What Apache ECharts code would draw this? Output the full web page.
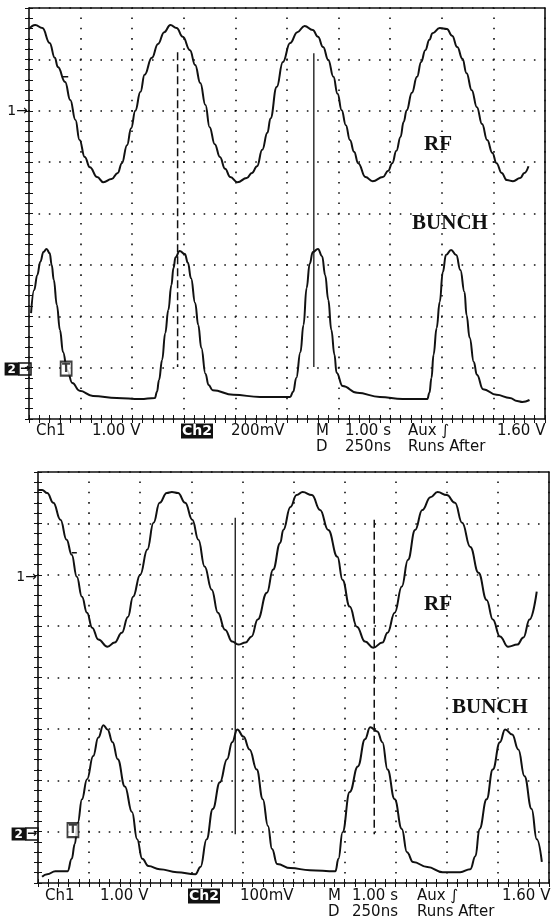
<!DOCTYPE html>
<html>
<head>
<meta charset="utf-8">
<script src="https://cdn.jsdelivr.net/npm/echarts/dist/echarts.min.js"></script>
<style>html,body{margin:0;padding:0;background:#fff}#c{width:554px;height:919px}</style>
</head>
<body>
<div id="c"></div>
<script>
// x: time in ns (250 ns/div, 10 div); y: screen divisions (0..8)
const timeTicks = [0, 250, 500, 750, 1000, 1250, 1500, 1750, 2000, 2250, 2500];
const divTicks = [0, 1, 2, 3, 4, 5, 6, 7, 8];

// ---- top screen (Ch2 200mV/div) ----
const rfTop = [[0,7.59],[30,7.67],[65,7.61],[100,7.32],[125,7.03],[140,6.85],[175,6.56],[200,6.21],[225,5.82],[245,5.43],[270,5.10],[295,4.90],[330,4.71],[360,4.61],[400,4.67],[430,4.79],[450,4.98],[475,5.33],[495,5.66],[515,6.00],[540,6.37],[560,6.70],[595,7.03],[625,7.30],[655,7.53],[685,7.67],[715,7.61],[745,7.44],[780,7.18],[805,6.89],[830,6.54],[855,6.11],[875,5.68],[900,5.35],[925,5.10],[950,4.87],[975,4.71],[1010,4.61],[1055,4.69],[1080,4.79],[1105,4.92],[1130,5.24],[1155,5.57],[1170,5.85],[1200,6.46],[1230,6.95],[1265,7.32],[1300,7.53],[1335,7.65],[1375,7.57],[1400,7.44],[1425,7.24],[1450,6.99],[1475,6.66],[1495,6.33],[1515,6.01],[1535,5.72],[1555,5.43],[1575,5.20],[1595,4.98],[1630,4.71],[1665,4.63],[1715,4.71],[1740,4.83],[1760,4.98],[1780,5.22],[1800,5.49],[1815,5.78],[1830,6.01],[1855,6.35],[1880,6.66],[1900,6.95],[1920,7.18],[1940,7.38],[1955,7.51],[1990,7.61],[2025,7.59],[2050,7.46],[2075,7.24],[2100,7.01],[2120,6.73],[2145,6.40],[2170,6.07],[2195,5.74],[2220,5.43],[2245,5.18],[2265,4.98],[2290,4.79],[2315,4.65],[2345,4.63],[2380,4.69],[2400,4.79],[2420,4.92]];
const bunchTop = [[10,2.06],[25,2.51],[40,2.80],[55,3.06],[70,3.25],[85,3.31],[100,3.23],[110,3.00],[120,2.71],[135,2.22],[150,1.73],[165,1.30],[185,0.95],[210,0.70],[245,0.55],[310,0.45],[425,0.41],[540,0.39],[610,0.41],[620,0.53],[630,0.76],[645,1.15],[660,1.67],[675,2.12],[690,2.61],[700,2.94],[710,3.15],[730,3.27],[755,3.21],[770,3.04],[785,2.74],[805,2.26],[820,1.83],[835,1.38],[855,0.88],[870,0.66],[890,0.56],[990,0.47],[1120,0.43],[1265,0.43],[1280,0.53],[1295,0.80],[1315,1.30],[1330,1.83],[1345,2.55],[1360,3.02],[1375,3.25],[1400,3.31],[1420,3.17],[1435,2.80],[1450,2.32],[1465,1.73],[1480,1.25],[1490,0.90],[1520,0.64],[1590,0.51],[1700,0.43],[1810,0.39],[1930,0.39],[1940,0.51],[1950,0.80],[1960,1.25],[1975,1.77],[1990,2.28],[2005,2.86],[2020,3.19],[2045,3.29],[2070,3.19],[2090,2.90],[2110,2.47],[2120,2.02],[2135,1.58],[2155,1.11],[2170,0.86],[2200,0.58],[2265,0.47],[2330,0.41],[2365,0.35],[2390,0.33],[2425,0.37]];
const cursorSolidTop = [[1380,7.12],[1380,1.01]];
const cursorDashedTop = [[720,7.14],[720,1.01]];
const levelMarkTop = [[160,6.66],[190,6.66]];
const triggerTop = [[180,0.98]];

// ---- bottom screen (Ch2 100mV/div) ----
const rfBottom = [[0,7.65],[20,7.65],[45,7.59],[75,7.40],[110,7.07],[140,6.68],[165,6.39],[190,5.96],[215,5.57],[240,5.26],[265,4.97],[295,4.74],[340,4.60],[375,4.68],[410,4.87],[440,5.18],[465,5.57],[500,6.00],[535,6.49],[565,7.01],[595,7.40],[630,7.59],[655,7.61],[685,7.59],[720,7.40],[755,7.07],[785,6.68],[815,6.16],[850,5.71],[880,5.26],[915,4.93],[950,4.70],[980,4.64],[1015,4.68],[1045,4.80],[1075,5.13],[1120,5.65],[1150,6.10],[1185,6.62],[1200,6.87],[1235,7.32],[1265,7.55],[1295,7.61],[1340,7.55],[1380,7.26],[1420,6.87],[1465,6.35],[1490,5.90],[1525,5.38],[1560,4.99],[1600,4.70],[1640,4.58],[1685,4.68],[1710,4.87],[1745,5.26],[1780,5.77],[1810,6.29],[1845,6.87],[1880,7.26],[1920,7.51],[1955,7.61],[2000,7.55],[2040,7.40],[2075,7.01],[2115,6.54],[2155,6.04],[2195,5.51],[2225,5.13],[2260,4.80],[2300,4.60],[2345,4.64],[2375,4.78],[2405,5.13],[2440,5.67]];
const bunchBottom = [[20,0.12],[45,0.17],[85,0.23],[145,0.23],[165,0.47],[180,0.76],[195,1.18],[215,1.63],[240,2.02],[270,2.47],[295,2.83],[320,3.07],[340,2.99],[365,2.74],[390,2.41],[425,1.88],[460,1.38],[485,0.85],[510,0.47],[540,0.33],[595,0.27],[680,0.21],[770,0.17],[795,0.31],[825,0.85],[855,1.44],[890,1.96],[925,2.41],[950,2.74],[975,2.99],[1005,2.85],[1035,2.60],[1070,2.21],[1100,1.63],[1125,1.11],[1145,0.66],[1170,0.37],[1235,0.29],[1330,0.25],[1455,0.23],[1470,0.47],[1490,0.99],[1525,1.77],[1565,2.27],[1600,2.80],[1625,3.03],[1660,2.95],[1685,2.74],[1710,2.21],[1745,1.63],[1780,1.05],[1805,0.60],[1835,0.41],[1905,0.31],[1980,0.21],[2065,0.21],[2115,0.27],[2140,0.52],[2160,1.05],[2195,1.63],[2225,2.21],[2260,2.74],[2285,2.99],[2320,2.89],[2350,2.60],[2380,2.08],[2415,1.44],[2440,0.85],[2465,0.41]];
const cursorSolidBottom = [[965,7.11],[965,0.95]];
const cursorDashedBottom = [[1645,7.07],[1645,0.95]];
const levelMarkBottom = [[165,6.43],[190,6.43]];
const triggerBottom = [[171,1.03]];

// readout texts
const readoutTop = ['Ch1', '1.00 V', 'Ch2', '200mV', 'M', '1.00 s', 'Aux \u222B', '1.60 V', 'D', '250ns', 'Runs After'];
const readoutBottom = ['Ch1', '1.00 V', 'Ch2', '100mV', 'M', '1.00 s', 'Aux \u222B', '1.60 V', 'D', '250ns', 'Runs After'];
const traceLabels = ['RF', 'BUNCH'];

const INK = '#111';
const panels = [
  {left: 29, top: 8, width: 516, height: 411, row1: 431, row2: 447,
   xs: [36, 92, 181, 231, 316, 345, 408, 497, 316, 345, 408], rf: [438, 145], bunch: [450, 224], one: [28, 111], two: [31, 369]},
  {left: 38, top: 472, width: 511, height: 411, row1: 896, row2: 912,
   xs: [45, 100, 188, 240, 328, 352, 417, 502, 328, 352, 417], rf: [438, 605], bunch: [490, 708], one: [37, 577], two: [38, 834]}
];

const grids = [], xAxes = [], yAxes = [];
panels.forEach((p, i) => {
  grids.push({left: p.left, top: p.top, width: p.width, height: p.height, show: true,
    borderColor: INK, borderWidth: 1.6, backgroundColor: 'transparent'});
  const vPeriod = p.height / 40, hPeriod = p.width / 50;
  const tick = {show: true, inside: true, length: 4, lineStyle: {color: INK, width: 1}};
  const minor = {show: true, splitNumber: 5, length: 4, lineStyle: {color: INK, width: 1}};
  const base = {gridIndex: i, type: 'value', axisLine: {show: false}, axisLabel: {show: false}, axisTick: tick, minorTick: minor};
  xAxes.push(Object.assign({}, base, {position: 'bottom', min: timeTicks[0], max: timeTicks[timeTicks.length - 1], interval: timeTicks[1] - timeTicks[0],
    splitLine: {show: true, lineStyle: {color: INK, width: 1.6, type: [1.6, vPeriod - 1.6], dashOffset: 0.8}}}));
  xAxes.push(Object.assign({}, base, {position: 'top', min: timeTicks[0], max: timeTicks[timeTicks.length - 1], interval: timeTicks[1] - timeTicks[0], splitLine: {show: false}}));
  yAxes.push(Object.assign({}, base, {position: 'left', min: divTicks[0], max: divTicks[divTicks.length - 1], interval: 1,
    splitLine: {show: true, lineStyle: {color: INK, width: 1.6, type: [1.6, hPeriod - 1.6], dashOffset: 0.8}}}));
  yAxes.push(Object.assign({}, base, {position: 'right', min: divTicks[0], max: divTicks[divTicks.length - 1], interval: 1, splitLine: {show: false}}));
});

function trace(data, i) {
  return {type: 'line', xAxisIndex: 2 * i, yAxisIndex: 2 * i, data: data, symbol: 'none', smooth: 0.45, smoothMonotone: 'x',
    lineStyle: {color: INK, width: 2}, z: 5, animation: false, silent: true};
}
function seg(data, i, dashed, w) {
  return {type: 'line', xAxisIndex: 2 * i, yAxisIndex: 2 * i, data: data, symbol: 'none',
    lineStyle: {color: INK, width: w, type: dashed ? [8, 4] : 'solid'}, z: 4, animation: false, silent: true};
}
function trig(data, i) {
  return {type: 'scatter', xAxisIndex: 2 * i, yAxisIndex: 2 * i, data: data, symbol: 'rect', symbolSize: [11, 14],
    itemStyle: {color: '#fff', borderColor: INK, borderWidth: 2}, z: 6, animation: false, silent: true,
    label: {show: true, position: 'inside', formatter: 'T', color: INK, fontSize: 12, fontWeight: 'bold', fontFamily: 'DejaVu Sans'}};
}

const series = [
  trace(rfTop, 0), trace(bunchTop, 0), seg(cursorSolidTop, 0, false, 1.3), seg(cursorDashedTop, 0, true, 1.5), seg(levelMarkTop, 0, false, 1.5), trig(triggerTop, 0),
  trace(rfBottom, 1), trace(bunchBottom, 1), seg(cursorSolidBottom, 1, false, 1.3), seg(cursorDashedBottom, 1, true, 1.5), seg(levelMarkBottom, 1, false, 1.5), trig(triggerBottom, 1)
];

const graphic = [];
const FONT = '15px "DejaVu Sans"';
[readoutTop, readoutBottom].forEach((texts, i) => {
  const p = panels[i];
  texts.forEach((t, k) => {
    const y = k < 8 ? p.row1 : p.row2;
    const st = {text: t, font: FONT, fill: INK, verticalAlign: 'middle', align: 'left'};
    if (t === 'Ch2') { st.font = 'bold 14px "DejaVu Sans"'; st.fill = '#fff'; st.backgroundColor = INK; st.padding = [1, 1, 0, 1]; }
    graphic.push({type: 'text', x: p.xs[k], y: y, style: st, silent: true});
  });
  graphic.push({type: 'text', x: p.rf[0], y: p.rf[1], style: {text: traceLabels[0], font: 'bold 21px "Liberation Serif"', fill: INK, align: 'center', verticalAlign: 'middle'}, silent: true});
  graphic.push({type: 'text', x: p.bunch[0], y: p.bunch[1], style: {text: traceLabels[1], font: 'bold 21px "Liberation Serif"', fill: INK, align: 'center', verticalAlign: 'middle'}, silent: true});
  graphic.push({type: 'text', x: p.one[0], y: p.one[1], style: {text: '1\u2192', font: '14px "DejaVu Sans"', fill: INK, align: 'right', verticalAlign: 'middle'}, silent: true});
  graphic.push({type: 'text', x: p.two[0], y: p.two[1], style: {text: '{b|2}{a|\u2192}', align: 'right', verticalAlign: 'middle',
    rich: {b: {font: 'bold 12px "DejaVu Sans"', fill: '#fff', backgroundColor: INK, padding: [1, 3, 0, 3]},
           a: {font: 'bold 12px "DejaVu Sans"', fill: INK, borderColor: INK, borderWidth: 1.5, padding: [0, 1, 0, 1]}}}, silent: true});
});

const chart = echarts.init(document.getElementById('c'), null, {renderer: 'canvas'});
chart.setOption({backgroundColor: '#fff', animation: false, grid: grids, xAxis: xAxes, yAxis: yAxes, series: series, graphic: graphic});
</script>
</body>
</html>
